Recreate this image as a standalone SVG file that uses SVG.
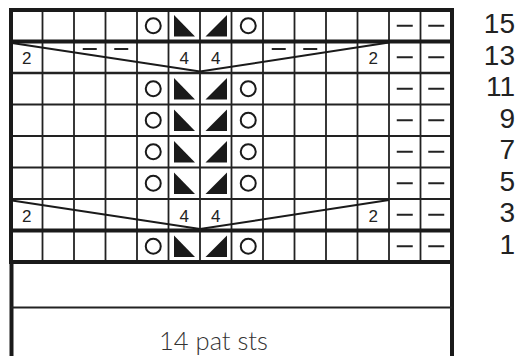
<svg xmlns="http://www.w3.org/2000/svg" width="518" height="356" viewBox="0 0 518 356">
<defs>
<style>
.bg{fill:#fff}
.grid{stroke:#222;stroke-width:1.8;fill:none}
.thick{stroke:#1a1a1a;stroke-width:4;fill:none}
.frame{stroke:#1a1a1a;stroke-width:4;fill:none}
.dash{stroke:#222;stroke-width:2}
.diag{stroke:#1a1a1a;stroke-width:2;fill:none}
.yo{fill:none;stroke:#1a1a1a;stroke-width:2}
.tri{fill:#1a1a1a}
.num{font-family:"Liberation Sans",Arial,sans-serif;font-size:17px;fill:#222;text-anchor:middle}
.row{font-family:"Liberation Sans",Arial,sans-serif;font-size:28px;fill:#222;text-anchor:end}
.lbl{font-family:Lato,"Open Sans",sans-serif;font-weight:300;font-size:25.5px;fill:#333;text-anchor:middle}
</style>
<g id="motif">
<circle class="yo" cx="16.25" cy="15.75" r="7.5"/>
<polygon class="tri" points="37,5 37,26.5 58,26.5"/>
<polygon class="tri" points="90,5 90,26.5 68.5,26.5"/>
<circle class="yo" cx="111.25" cy="15.75" r="7.5"/>
</g>
<g id="purl2">
<line class="dash" x1="396.75" y1="0" x2="412.75" y2="0"/>
<line class="dash" x1="428.25" y1="0" x2="444.25" y2="0"/>
</g>
</defs>
<rect class="bg" x="0" y="0" width="518" height="356"/>
<g id="grid">
<g class="grid">
<line x1="42.5" y1="10" x2="42.5" y2="262"/>
<line x1="74" y1="10" x2="74" y2="262"/>
<line x1="105.5" y1="10" x2="105.5" y2="262"/>
<line x1="137" y1="10" x2="137" y2="262"/>
<line x1="168.5" y1="10" x2="168.5" y2="262"/>
<line x1="200" y1="10" x2="200" y2="262"/>
<line x1="231.5" y1="10" x2="231.5" y2="262"/>
<line x1="263" y1="10" x2="263" y2="262"/>
<line x1="294.5" y1="10" x2="294.5" y2="262"/>
<line x1="326" y1="10" x2="326" y2="262"/>
<line x1="357.5" y1="10" x2="357.5" y2="262"/>
<line x1="389" y1="10" x2="389" y2="262"/>
<line x1="420.5" y1="10" x2="420.5" y2="262"/>
<line x1="11" y1="73" x2="452" y2="73" stroke-width="2.6"/>
<line x1="11" y1="104.5" x2="452" y2="104.5"/>
<line x1="11" y1="136" x2="452" y2="136"/>
<line x1="11" y1="167.5" x2="452" y2="167.5"/>
<line x1="11" y1="199" x2="452" y2="199"/>
</g>
<line class="thick" x1="11" y1="41.5" x2="452" y2="41.5"/>
<line class="thick" x1="11" y1="230.5" x2="452" y2="230.5"/>
<rect class="frame" x="11" y="10" width="441" height="252"/>
<line class="frame" x1="11.5" y1="262" x2="11.5" y2="358"/>
<line class="frame" x1="452" y1="262" x2="452" y2="358"/>
<line class="grid" x1="11" y1="307.5" x2="452" y2="307.5" stroke-width="2.2"/>
</g>
<g id="row15">
<use href="#motif" x="137" y="10"/>
<use href="#purl2" y="25.75"/>
</g>
<g id="row13">
<text class="num" x="26.75" y="64">2</text>
<line class="dash" x1="82.75" y1="49" x2="96.75" y2="49"/>
<line class="dash" x1="114.25" y1="49" x2="128.25" y2="49"/>
<text class="num" x="184.25" y="64">4</text>
<text class="num" x="215.75" y="64">4</text>
<line class="dash" x1="271.75" y1="49" x2="285.75" y2="49"/>
<line class="dash" x1="303.25" y1="49" x2="317.25" y2="49"/>
<text class="num" x="373.25" y="64">2</text>
<use href="#purl2" y="57.25"/>
</g>
<g id="row11">
<use href="#motif" x="137" y="73"/>
<use href="#purl2" y="88.75"/>
</g>
<g id="row9">
<use href="#motif" x="137" y="104.5"/>
<use href="#purl2" y="120.25"/>
</g>
<g id="row7">
<use href="#motif" x="137" y="136"/>
<use href="#purl2" y="151.75"/>
</g>
<g id="row5">
<use href="#motif" x="137" y="167.5"/>
<use href="#purl2" y="183.25"/>
</g>
<g id="row3">
<text class="num" x="26.75" y="221.5">2</text>
<text class="num" x="184.25" y="221.5">4</text>
<text class="num" x="215.75" y="221.5">4</text>
<text class="num" x="373.25" y="221.5">2</text>
<use href="#purl2" y="214.75"/>
</g>
<g id="row1">
<use href="#motif" x="137" y="230.5"/>
<use href="#purl2" y="246.25"/>
</g>
<g id="connectors">
<polyline class="diag" points="12,43 200,71.5 389,42.5"/>
<polyline class="diag" points="12,200.5 200,229 389,200"/>
</g>
<g id="row-numbers">
<text class="row" x="515" y="33">15</text>
<text class="row" x="515" y="64.5">13</text>
<text class="row" x="515" y="96">11</text>
<text class="row" x="515" y="127.5">9</text>
<text class="row" x="515" y="159">7</text>
<text class="row" x="515" y="190.5">5</text>
<text class="row" x="515" y="222">3</text>
<text class="row" x="515" y="253.5">1</text>
</g>
<g id="label">
<text class="lbl" x="213.5" y="350">14 pat sts</text>
</g>
</svg>
